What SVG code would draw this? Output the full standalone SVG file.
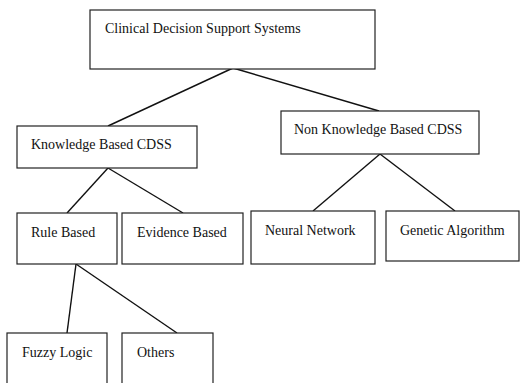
<svg xmlns="http://www.w3.org/2000/svg" width="521" height="383" viewBox="0 0 521 383">
<style>
.box{fill:#fff;stroke:#222;stroke-width:1.2}
.t{font-family:"Liberation Serif","Times New Roman",serif;font-size:14px;fill:#111}
.c line{stroke:#111;stroke-width:1.4}
</style>
<rect width="521" height="383" fill="#fff"/>
<g class="c" id="connectors">
<line x1="233" y1="68" x2="108" y2="126"/>
<line x1="233" y1="68" x2="379" y2="111"/>
<line x1="108" y1="168" x2="67" y2="213"/>
<line x1="108" y1="168" x2="183" y2="213"/>
<line x1="380" y1="154" x2="313" y2="211"/>
<line x1="380" y1="154" x2="455" y2="211"/>
<line x1="76" y1="264" x2="67" y2="333"/>
<line x1="76" y1="264" x2="177" y2="333"/>
</g>
<g id="cdss"><rect class="box" x="90" y="10" width="285" height="59"/><text class="t" x="105" y="33">Clinical Decision Support Systems</text></g>
<g id="kb"><rect class="box" x="17" y="126" width="180" height="42"/><text class="t" x="31" y="149">Knowledge Based CDSS</text></g>
<g id="nkb"><rect class="box" x="281" y="111" width="198" height="43"/><text class="t" x="294" y="134">Non Knowledge Based CDSS</text></g>
<g id="rule"><rect class="box" x="17" y="213" width="100" height="51"/><text class="t" x="31" y="237">Rule Based</text></g>
<g id="evidence"><rect class="box" x="122" y="213" width="121" height="51"/><text class="t" x="137" y="237">Evidence Based</text></g>
<g id="neural"><rect class="box" x="251" y="211" width="124" height="53"/><text class="t" x="265" y="235">Neural Network</text></g>
<g id="genetic"><rect class="box" x="386" y="211" width="133" height="50"/><text class="t" x="400" y="235">Genetic Algorithm</text></g>
<g id="fuzzy"><rect class="box" x="7" y="333" width="100" height="60"/><text class="t" x="22" y="357">Fuzzy Logic</text></g>
<g id="others"><rect class="box" x="122" y="333" width="91" height="60"/><text class="t" x="137" y="357">Others</text></g>
</svg>
